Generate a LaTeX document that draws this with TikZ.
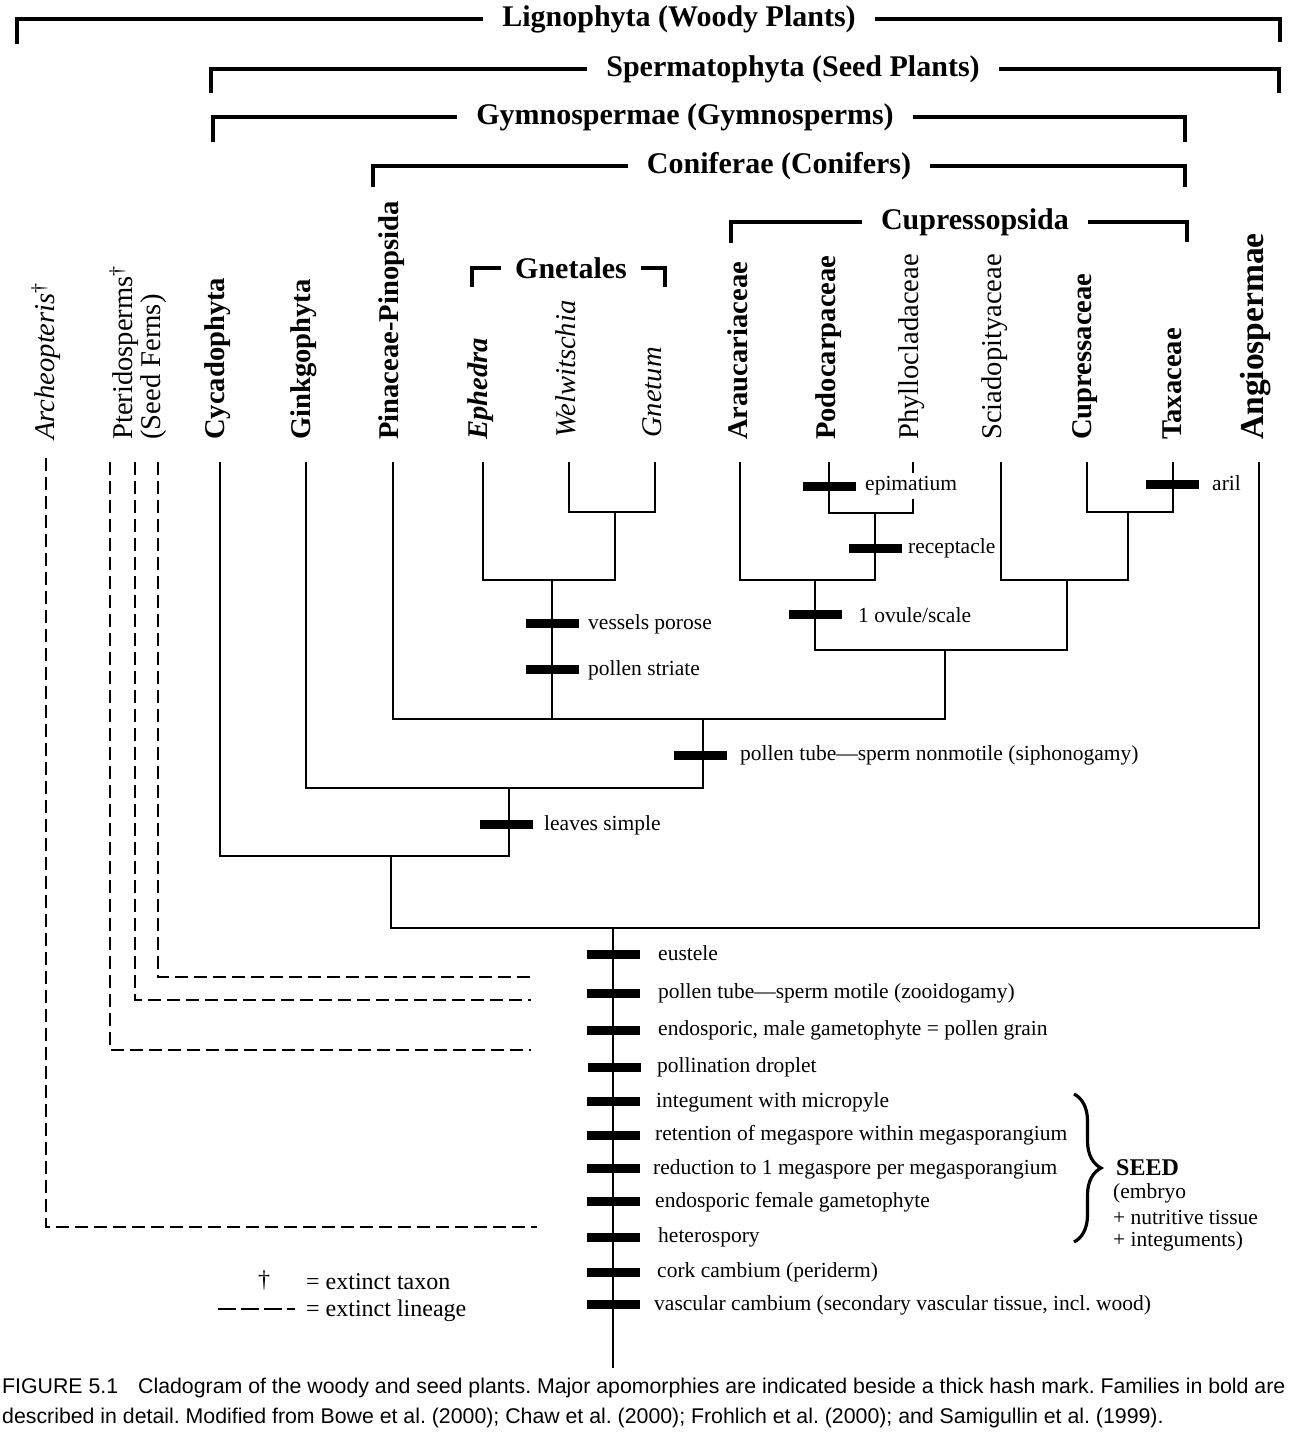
\documentclass[tikz,border=0pt]{standalone}
\usepackage{fontspec}
\setmainfont{Liberation Serif}
\newfontfamily\capfont{Liberation Sans}
\usetikzlibrary{decorations.pathreplacing}
\begin{document}
\frenchspacing
\begin{tikzpicture}[x=1pt,y=-1pt,
  br/.style={line width=4pt},
  head/.style={font=\fontsize{30}{34}\selectfont\bfseries, inner xsep=19pt, inner ysep=0pt},
  taxon/.style={font=\fontsize{28.6}{28}\selectfont, rotate=90, anchor=west, inner sep=0pt},
  taxb/.style={taxon, font=\fontsize{28.6}{28}\selectfont\bfseries},
  branch/.style={line width=2.2pt},
  ext/.style={line width=1.6pt, dash pattern=on 13pt off 6pt},
  lab/.style={font=\fontsize{21.5}{25}\selectfont, anchor=west, inner sep=0pt},
  hashmark/.pic={\fill (-26.5,-4.5) rectangle (26.5,4.5);}
]
\useasboundingbox (0,0) rectangle (1306,1445);

% ---------- group brackets ----------
\node[head] (lig) at (679,19) {Lignophyta (Woody Plants)};
\draw[br] (17,44) |- (lig.west);
\draw[br] (lig.east) -| (1280,42);
\node[head] (spe) at (793,69) {Spermatophyta (Seed Plants)};
\draw[br] (211,93) |- (spe.west);
\draw[br] (spe.east) -| (1279,93);
\node[head] (gym) at (685,117) {Gymnospermae (Gymnosperms)};
\draw[br] (213,142) |- (gym.west);
\draw[br] (gym.east) -| (1185,142);
\node[head] (con) at (779,166) {Coniferae (Conifers)};
\draw[br] (373,187) |- (con.west);
\draw[br] (con.east) -| (1185,187);
\node[head] (cps) at (975,222) {Cupressopsida};
\draw[br] (731,243) |- (cps.west);
\draw[br] (cps.east) -| (1187,242);
\node[head, inner xsep=14pt] (gnl) at (571,268) {Gnetales};
\draw[br] (472,287) |- (gnl.west);
\draw[br] (gnl.east) -| (665,287);

% ---------- taxa ----------
\node[taxon] (Larc) at (46,440) {\textit{Archeopteris}\textsuperscript{\textdagger}};
\node[taxon, align=left] (Lpte) at (138,440) {Pteridosperms\textsuperscript{\textdagger}\\(Seed Ferns)};
\node[taxb] (Lcyc) at (218,440) {Cycadophyta};
\node[taxb] (Lgin) at (304,440) {Ginkgophyta};
\node[taxb] (Lpin) at (392,440) {Pinaceae-Pinopsida};
\node[taxb] (Leph) at (481,440) {\itshape Ephedra};
\node[taxon] (Lwel) at (566,438) {\itshape Welwitschia};
\node[taxon] (Lgne) at (652,438) {\itshape Gnetum};
\node[taxb] (Lara) at (738,440) {Araucariaceae};
\node[taxb] (Lpod) at (829,440) {Podocarpaceae};
\node[taxon] (Lphy) at (912,440) {Phyllocladaceae};
\node[taxon] (Lsci) at (995,440) {Sciadopityaceae};
\node[taxb] (Lcup) at (1085,440) {Cupressaceae};
\node[taxb] (Ltax) at (1172,440) {Taxaceae};
\node[taxb, font=\fontsize{33.5}{34}\selectfont\bfseries] (Lang) at (1256,440) {Angiospermae};

% ---------- tips ----------
\coordinate (cyc) at (220,462);
\coordinate (gin) at (306,462);
\coordinate (pin) at (393,462);
\coordinate (eph) at (483,462);
\coordinate (wel) at (569,462);
\coordinate (gne) at (655,462);
\coordinate (ara) at (740,462);
\coordinate (pod) at (829,462);
\coordinate (phy) at (913,462);
\coordinate (sci) at (1001,462);
\coordinate (cup) at (1087,462);
\coordinate (tax) at (1173,462);
\coordinate (ang) at (1259,462);
% internal nodes
\coordinate (nWG) at (615,512);
\coordinate (nGnet) at (552,580);
\coordinate (nPP) at (875,513);
\coordinate (nAPP) at (815,580);
\coordinate (nCT) at (1128,512);
\coordinate (nSCT) at (1067,580);
\coordinate (nCup) at (945,650);
\coordinate (nCon) at (703,719);
\coordinate (nGin) at (509,788);
\coordinate (nCyc) at (391,856);
\coordinate (nSeed) at (613,928);
\coordinate (root) at (613,1368);

% ---------- branches ----------
\draw[branch] (wel) |- (nWG) -| (gne);
\draw[branch] (eph) |- (nGnet) -| (nWG);
\draw[branch] (nGnet) -- (nGnet |- nCon);
\draw[branch] (pod) |- (nPP) -| (phy);
\draw[branch] (ara) |- (nAPP) -| (nPP);
\draw[branch] (cup) |- (nCT) -| (tax);
\draw[branch] (sci) |- (nSCT) -| (nCT);
\draw[branch] (nAPP) |- (nCup) -| (nSCT);
\draw[branch] (pin) |- (nCon) -| (nCup);
\draw[branch] (gin) |- (nGin) -| (nCon);
\draw[branch] (cyc) |- (nCyc) -| (nGin);
\draw[branch] (nCyc) |- (nSeed) -| (ang);
\draw[branch] (nSeed) -- (root);

% ---------- extinct lineages ----------
\coordinate (arc) at (46,458);
\coordinate (pt1) at (110,462);
\coordinate (pt2) at (135,462);
\coordinate (pt3) at (158,462);
\coordinate (e0) at (537,1227);
\coordinate (e1) at (531,1050);
\coordinate (e2) at (531,1000);
\coordinate (e3) at (531,977);
\draw[ext] (arc) |- (e0);
\draw[ext] (pt1) |- (e1);
\draw[ext] (pt2) |- (e2);
\draw[ext] (pt3) |- (e3);

% ---------- apomorphies on the conifer part ----------
\pic at (552,623) {hashmark};
\node[lab] (a1) at (588,624) {vessels porose};
\pic at (552,669) {hashmark};
\node[lab] (a2) at (588,670) {pollen striate};
\pic at (829,486) {hashmark};
\node[lab, fill=white, inner ysep=4pt] (a3) at (865,486) {epimatium};
\pic at (875,548) {hashmark};
\node[lab] (a4) at (908,548) {receptacle};
\pic at (815,614) {hashmark};
\node[lab] (a5) at (858,615) {1 ovule/scale};
\pic at (1172,484) {hashmark};
\node[lab] (a6) at (1212,483) {aril};
\pic at (700,755) {hashmark};
\node[lab] (a7) at (740,755) {pollen tube---sperm nonmotile (siphonogamy)};
\pic at (506,824) {hashmark};
\node[lab] (a8) at (544,825) {leaves simple};

% ---------- apomorphies on the main stem ----------
\pic at (613,954) {hashmark};
\node[lab] (m1) at (658,953) {eustele};
\pic at (613,993) {hashmark};
\node[lab] (m2) at (658,993) {pollen tube---sperm motile (zooidogamy)};
\pic at (613,1030) {hashmark};
\node[lab] (m3) at (658,1030) {endosporic, male gametophyte = pollen grain};
\pic at (614,1067) {hashmark};
\node[lab] (m4) at (657,1067) {pollination droplet};
\pic at (613,1101) {hashmark};
\node[lab] (m5) at (656,1102) {integument with micropyle};
\pic at (613,1135) {hashmark};
\node[lab] (m6) at (655,1135) {retention of megaspore within megasporangium};
\pic at (613,1168) {hashmark};
\node[lab] (m7) at (653,1169) {reduction to 1 megaspore per megasporangium};
\pic at (613,1201) {hashmark};
\node[lab] (m8) at (655,1202) {endosporic female gametophyte};
\pic at (613,1237) {hashmark};
\node[lab] (m9) at (658,1237) {heterospory};
\pic at (613,1272) {hashmark};
\node[lab] (m10) at (657,1272) {cork cambium (periderm)};
\pic at (613,1304) {hashmark};
\node[lab] (m11) at (654,1305) {vascular cambium (secondary vascular tissue, incl. wood)};

% ---------- SEED brace ----------
\draw[line width=3.2pt, decorate, decoration={brace, amplitude=27pt, aspect=0.5}] (1074,1094) -- (1074,1242);
\node[lab, font=\fontsize{24}{28}\selectfont\bfseries] (seed) at (1116,1168) {SEED};
\node[lab] (s1) at (1113,1193) {(embryo};
\node[lab] (s2) at (1113,1217) {+ nutritive tissue};
\node[lab] (s3) at (1113,1241) {+ integuments)};

% ---------- legend ----------
\node[lab, font=\fontsize{24}{28}\selectfont, anchor=center] (ldag) at (264,1281) {\textdagger};
\node[lab, font=\fontsize{24}{28}\selectfont] (lt1) at (306,1282) {= extinct taxon};
\coordinate (ld0) at (218,1309);
\coordinate (ld1) at (295,1309);
\draw[line width=2.4pt, dash pattern=on 18pt off 5pt] (ld0) -- (ld1);
\node[lab, font=\fontsize{24}{28}\selectfont] (lt2) at (306,1311) {= extinct lineage};

% ---------- caption ----------
\node[lab, font=\capfont\fontsize{21.3}{24}\selectfont] (cap1) at (2,1388) {FIGURE\ 5.1\hspace{20pt}Cladogram of the woody and seed plants. Major apomorphies are indicated beside a thick hash mark. Families in bold are};
\node[lab, font=\capfont\fontsize{21.3}{24}\selectfont] (cap2) at (2,1418) {described in detail. Modified from Bowe et al. (2000); Chaw et al. (2000); Frohlich et al. (2000); and Samigullin et al. (1999).};
\end{tikzpicture}
\end{document}
